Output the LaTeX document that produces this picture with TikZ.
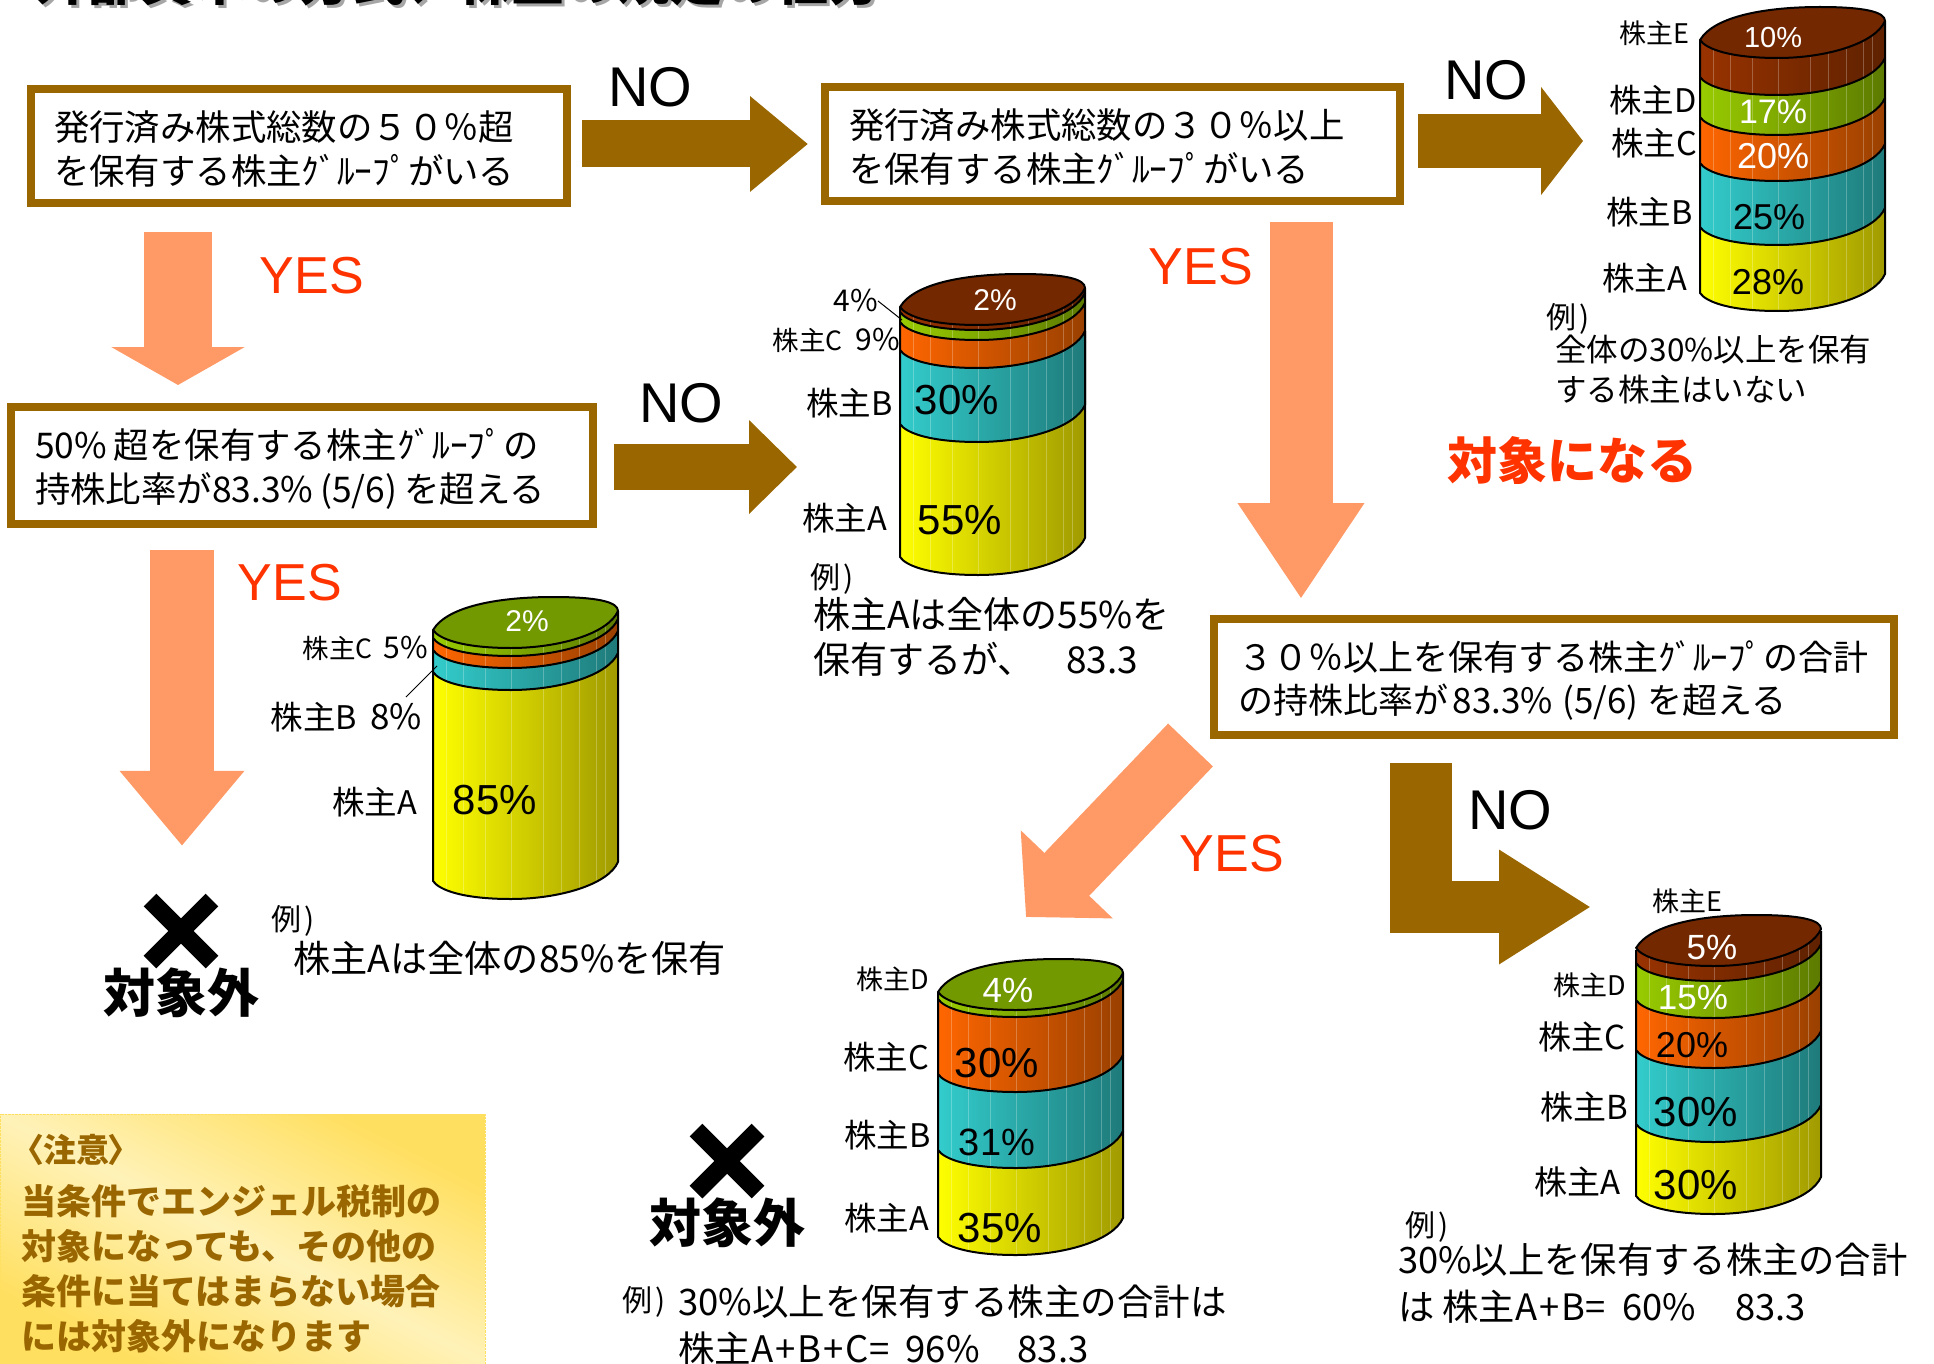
\documentclass[tikz,border=0pt]{standalone}
\usepackage{fontspec}
\setmainfont{Noto Sans CJK JP}
\newfontfamily\latinfont{Liberation Sans}
\usetikzlibrary{arrows.meta}
\usetikzlibrary{calc}

\definecolor{nobrown}{HTML}{996600}
\definecolor{yessalmon}{HTML}{FF9966}
\definecolor{yesred}{HTML}{FF3300}
\definecolor{noteyellow}{HTML}{FFDF5F}
\definecolor{notelight}{HTML}{FFF2B8}
\definecolor{yelL}{HTML}{FFFF00}
\definecolor{yelR}{HTML}{A09A00}
\definecolor{tealL}{HTML}{33CCCC}
\definecolor{tealR}{HTML}{1F7A7A}
\definecolor{oraL}{HTML}{FF6600}
\definecolor{oraR}{HTML}{994000}
\definecolor{greL}{HTML}{99CC00}
\definecolor{greR}{HTML}{5C7A00}
\definecolor{broL}{HTML}{993300}
\definecolor{broR}{HTML}{5E2100}
\definecolor{greTop}{HTML}{739900}
\definecolor{broTop}{HTML}{732800}

\pgfdeclarehorizontalshading{notegrad}{100bp}{color(0bp)=(noteyellow); color(26bp)=(noteyellow); color(50bp)=(notelight); color(74bp)=(noteyellow); color(100bp)=(noteyellow)}

\tikzset{
  flowbox/.style={draw=nobrown, line width=8pt, fill=white, align=left, inner sep=0pt, font=\fontsize{35.4pt}{44pt}\selectfont, execute at begin node=\rule{0pt}{36pt}},
  noarrow/.style args={#1/#2/#3}{draw=nobrown, line width=#1pt, -{Triangle[length=#2pt,width=#3pt]}},
  yesarrow/.style args={#1/#2/#3}{draw=yessalmon, line width=#1pt, -{Triangle[length=#2pt,width=#3pt]}},
  nolabel/.style={font=\latinfont\fontsize{56pt}{56pt}\selectfont, inner sep=0pt, yshift=-1pt},
  yeslabel/.style={font=\latinfont\fontsize{52pt}{52pt}\selectfont, text=yesred, inner sep=0pt, yshift=-2pt},
  holder/.style={font=\fontsize{#1pt}{#1pt}\selectfont, anchor=east, inner sep=0pt},
  pct/.style={font=\latinfont\fontsize{#1pt}{#1pt}\selectfont, inner sep=0pt},
  exmark/.style={font=\fontsize{30pt}{30pt}\selectfont, anchor=west, inner sep=0pt, xshift=-2pt, yshift=-3.5pt},
  extext/.style args={#1/#2}{font=\fontsize{#1pt}{#2pt}\selectfont, anchor=west, align=left, inner sep=0pt},
  outlabel/.style={font=\bfseries\fontsize{52pt}{52pt}\selectfont, inner sep=0pt},
  crossbar/.style={line width=18pt, black},
  rimline/.style={line width=2pt, black, line join=round},
  stripe/.style={line width=0.8pt, white, opacity=0.25}
}

% lower rim of the drum, left to right
\newcommand{\rimlow}[2]{(#1,#2) .. controls (#1+6,#2+9) and (#1+30,#2+18) .. (#1+78,#2+18) .. controls (#1+125,#2+18) and (#1+175,#2+4) .. (#1+185,#2-19)}

% x, upper y, lower y, left colour, right colour
\newcommand{\drumband}[5]{
  \begin{scope}
    \clip (#1,#2) -- \rimlow{#1}{#3} -- (#1+185,#2-19) -- cycle;
    \shade[left color=#4, right color=#5] (#1,#2-40) rectangle (#1+185,#3+25);
    \foreach \f in {13,30,52,78,110,128,146,163,172} {
      \draw[stripe] (#1+\f,#2-40) -- (#1+\f,#3+25);
    }
  \end{scope}
  \draw[rimline] (#1,#2) -- \rimlow{#1}{#3} -- (#1+185,#2-19);
}

% x, y, colour
\newcommand{\drumtop}[3]{
  \draw[rimline, fill=#3] \rimlow{#1}{#2} .. controls (#1+185,#2-28) and (#1+165,#2-33) .. (#1+120,#2-33) .. controls (#1+70,#2-33) and (#1+15,#2-25) .. (#1,#2) -- cycle;
}

\begin{document}
\begin{tikzpicture}[x=1pt,y=-1pt]
  \useasboundingbox (0,0) rectangle (1934,1364);

  % title, cut by the page edge
  \node[font=\bfseries\fontsize{53pt}{53pt}\selectfont, text=black!35, anchor=base west, inner sep=0pt] (titleshade) at (37,4) {外部資本の方式、株主の規定の仕方};
  \node[font=\bfseries\fontsize{53pt}{53pt}\selectfont, anchor=base west, inner sep=0pt] (title) at (34,1) {外部資本の方式、株主の規定の仕方};

  % question boxes
  \node[flowbox, minimum width=536pt, minimum height=114pt, text width=490pt] (boxA) at (299,146) {発行済み株式総数の５０％超\\を保有する株主ｸﾞﾙｰﾌﾟがいる};
  \node[flowbox, minimum width=575pt, minimum height=114pt, text width=527pt] (boxB) at (1112.5,144) {発行済み株式総数の３０％以上\\を保有する株主ｸﾞﾙｰﾌﾟがいる};
  \node[flowbox, minimum width=582pt, minimum height=117pt, text width=534pt] (boxC) at (302,465.5) {50\%\hspace{7pt}超を保有する株主ｸﾞﾙｰﾌﾟの\\持株比率が83.3\%\hspace{7pt}(5/6)\hspace{7pt}を超える};
  \node[flowbox, minimum width=680pt, minimum height=116pt, text width=632pt, font=\fontsize{35pt}{43pt}\selectfont] (boxD) at (1554,677) {３０％以上を保有する株主ｸﾞﾙｰﾌﾟの合計\\の持株比率が\hspace{5pt}83.3\%\hspace{9pt}(5/6)\hspace{9pt}を超える};

  % cross marks and their words
  \node[minimum width=74pt, minimum height=74pt, inner sep=0pt] (crossA) at (181,931) {};
  \draw[crossbar] ([xshift=-31pt,yshift=31pt]crossA.center) -- ([xshift=31pt,yshift=-31pt]crossA.center);
  \draw[crossbar] ([xshift=-31pt,yshift=-31pt]crossA.center) -- ([xshift=31pt,yshift=31pt]crossA.center);
  \node[outlabel] (outA) at (181,993) {対象外};
  \node[minimum width=74pt, minimum height=74pt, inner sep=0pt] (crossB) at (727,1161) {};
  \draw[crossbar] ([xshift=-31pt,yshift=31pt]crossB.center) -- ([xshift=31pt,yshift=-31pt]crossB.center);
  \draw[crossbar] ([xshift=-31pt,yshift=-31pt]crossB.center) -- ([xshift=31pt,yshift=31pt]crossB.center);
  \node[outlabel] (outB) at (727,1223) {対象外};

  % free ends of the connectors
  \coordinate (yesTopX) at (178,0);
  \coordinate (yesMidX) at (182,0);
  \coordinate (yesRightX) at (1301,0);
  \coordinate (tipE) at (1583,141);
  \coordinate (tipC) at (797,467);
  \coordinate (startC) at (614,467);
  \coordinate (diagStart) at (1190.5,745);
  \coordinate (diagTip) at (1026,917);
  \coordinate (elbowTop) at (1421,763);
  \coordinate (elbowLow) at (1421,933);
  \coordinate (elbowMid) at (1421,907);
  \coordinate (elbowTip) at (1591,907);

  % NO arrows
  \draw[noarrow=47/58/92, shorten <=11pt, shorten >=13pt] (boxA.east |- boxB.west) -- (boxB.west);
  \draw[noarrow=54/42/106, shorten <=14pt] (boxB.east |- tipE) -- (tipE);
  \draw[noarrow=46/48/91] (startC) -- (tipC);
  \draw[draw=nobrown, line width=62pt] (elbowTop) -- (elbowLow);
  \draw[noarrow=52/92/108] (elbowMid) -- (elbowTip);

  % YES arrows
  \draw[yesarrow=68/38/132, shorten <=25pt, shorten >=18pt] (yesTopX |- boxA.south) -- (yesTopX |- boxC.north);
  \draw[yesarrow=64/75/120, shorten <=22pt, shorten >=48pt] (yesMidX |- boxC.south) -- (yesMidX |- crossA.north);
  \draw[yesarrow=63/96/120, shorten <=17pt, shorten >=16pt] (yesRightX |- boxB.south) -- (yesRightX |- boxD.north);
  \draw[yesarrow=62/59/124] (diagStart) -- (diagTip);

  \node[nolabel] (noA) at (650,86) {NO};
  \node[nolabel] (noB) at (1486,79) {NO};
  \node[nolabel] (noC) at (681,402) {NO};
  \node[nolabel] (noD) at (1510,809) {NO};
  \node[yeslabel] (yesA) at (312,274) {YES};
  \node[yeslabel] (yesB) at (290,581) {YES};
  \node[yeslabel] (yesC) at (1201,265) {YES};
  \node[yeslabel] (yesD) at (1232,852) {YES};

  % drum top right
  \drumband{1700}{227}{293}{yelL}{yelR}
  \drumband{1700}{163}{227}{tealL}{tealR}
  \drumband{1700}{117}{163}{oraL}{oraR}
  \drumband{1700}{77}{117}{greL}{greR}
  \drumband{1700}{40}{77}{broL}{broR}
  \drumtop{1700}{40}{broTop}
  \node[holder=27] (holdE1) at (1690,33) {株主E};
  \node[holder=32.5] (holdD1) at (1697,100) {株主D};
  \node[holder=32.5] (holdC1) at (1697,143) {株主C};
  \node[holder=32.5] (holdB1) at (1693,212) {株主B};
  \node[holder=32.5] (holdA1) at (1687,278) {株主A};
  \node[pct=29, text=white] (pctE1) at (1773,38) {10\%};
  \node[pct=34, text=white] (pctD1) at (1773,112) {17\%};
  \node[pct=36, text=white] (pctC1) at (1773,156) {20\%};
  \node[pct=36] (pctB1) at (1769,217) {25\%};
  \node[pct=36] (pctA1) at (1768,282) {28\%};
  \node[exmark] (ex1) at (1548,315) {例\hspace{3pt})};
  \node[extext=31.5/40] (note1) at (1555,369) {全体の30\%以上を保有\\する株主はいない};

  % drum middle
  \drumband{900}{350}{557}{yelL}{yelR}
  \drumband{900}{350}{424}{tealL}{tealR}
  \drumband{900}{322}{350}{oraL}{oraR}
  \drumband{900}{312}{322}{greL}{greR}
  \drumband{900}{307}{312}{broL}{broR}
  \drumtop{900}{307}{broTop}
  \node[pct=30, text=white] (pctE2) at (995,300) {2\%};
  \node[holder=30] (pctD2) at (878,301) {4\%};
  \node[holder=26.5] (holdC2) at (900,340) {株主C\hspace{13pt}{\fontsize{30pt}{30pt}\selectfont 9\%}};
  \node[holder=32.5] (holdB2) at (893,403) {株主B};
  \node[holder=32.5] (holdA2) at (887,518) {株主A};
  \node[pct=42] (pctB2) at (957,400) {30\%};
  \node[pct=42] (pctA2) at (960,520) {55\%};
  \coordinate (leadEnd2) at (902,320);
  \draw[line width=1pt] (pctD2.east) -- (leadEnd2);
  \node[exmark] (ex2) at (812,575) {例\hspace{3pt})};
  \node[extext=37/45] (note2) at (813,637) {株主Aは全体の55\%を\\保有するが、\hspace{32pt}83.3};

  % drum left
  \drumband{433}{672}{881}{yelL}{yelR}
  \drumband{433}{650}{672}{tealL}{tealR}
  \drumband{433}{638}{650}{oraL}{oraR}
  \drumband{433}{630}{638}{greL}{greR}
  \drumtop{433}{630}{greTop}
  \node[pct=30, text=white] (pctD3) at (527,621) {2\%};
  \node[holder=26.5] (holdC3) at (428,648) {株主C\hspace{11pt}{\fontsize{30pt}{30pt}\selectfont 5\%}};
  \node[holder=32.5] (holdB3) at (422,717) {株主B\hspace{13pt}{\fontsize{35pt}{35pt}\selectfont 8\%}};
  \node[holder=32.5] (holdA3) at (417,802) {株主A};
  \node[pct=42] (pctA3) at (495,800) {85\%};
  \coordinate (leadStart3) at (406,697);
  \coordinate (leadEnd3) at (437,666);
  \draw[line width=1pt] (leadStart3) -- (leadEnd3);
  \node[exmark] (ex3) at (273,917) {例\hspace{3pt})};
  \node[extext=37.2/45] (note3) at (293,958) {株主Aは全体の85\%を保有};

  % drum bottom middle
  \drumband{938}{1150}{1237}{yelL}{yelR}
  \drumband{938}{1074}{1150}{tealL}{tealR}
  \drumband{938}{999}{1074}{oraL}{oraR}
  \drumband{938}{992}{999}{greL}{greR}
  \drumtop{938}{992}{greTop}
  \node[holder=27] (holdD4) at (929,979) {株主D};
  \node[holder=32.5] (holdC4) at (929,1057) {株主C};
  \node[holder=32.5] (holdB4) at (931,1135) {株主B};
  \node[holder=32.5] (holdA4) at (929,1218) {株主A};
  \node[pct=35, text=white] (pctD4) at (1008,990) {4\%};
  \node[pct=42] (pctC4) at (997,1063) {30\%};
  \node[pct=38] (pctB4) at (997,1142) {31\%};
  \node[pct=42] (pctA4) at (1000,1228) {35\%};
  \node[exmark] (ex4) at (624,1298) {例\hspace{3pt})};
  \node[extext=36.5/47] (note4) at (678,1325) {30\%以上を保有する株主の合計は\\株主A\hspace{2pt}+\hspace{2pt}B\hspace{2pt}+\hspace{2pt}C=\hspace{8pt} 96\%\hspace{38pt}83.3};

  % drum bottom right
  \drumband{1636}{1124}{1196}{yelL}{yelR}
  \drumband{1636}{1050}{1124}{tealL}{tealR}
  \drumband{1636}{1000}{1050}{oraL}{oraR}
  \drumband{1636}{963}{1000}{greL}{greR}
  \drumband{1636}{950}{963}{broL}{broR}
  \drumtop{1636}{948}{broTop}
  \node[holder=27] (holdE5) at (1723,901) {株主E};
  \node[holder=27] (holdD5) at (1626,985) {株主D};
  \node[holder=33] (holdC5) at (1626,1037) {株主C};
  \node[holder=33] (holdB5) at (1628,1107) {株主B};
  \node[holder=33] (holdA5) at (1621,1182) {株主A};
  \node[pct=35, text=white] (pctE5) at (1712,948) {5\%};
  \node[pct=35, text=white] (pctD5) at (1693,998) {15\%};
  \node[pct=36] (pctC5) at (1692,1045) {20\%};
  \node[pct=42] (pctB5) at (1696,1112) {30\%};
  \node[pct=42] (pctA5) at (1696,1185) {30\%};
  \node[exmark] (ex5) at (1407,1223) {例\hspace{3pt})};
  \node[extext=36.3/47] (note5) at (1398,1283) {30\%以上を保有する株主の合計\\は 株主A\hspace{2pt}+\hspace{2pt}B=\hspace{9pt} 60\%\hspace{39pt}83.3};

  % verdict and note
  \node[font=\bfseries\fontsize{50pt}{50pt}\selectfont, text=yesred, inner sep=0pt] (target) at (1572,461) {対象になる};
  \fill[shading=notegrad, shading angle=63] (0,1114) rectangle (485,1364);
  \draw[noteyellow, densely dotted] (0,1364) -- (0,1114) -- (485,1114) -- (485,1364);
  \node[font=\bfseries\fontsize{35pt}{45pt}\selectfont, text=nobrown, anchor=north west, align=left, inner sep=0pt] (notetext) at (21,1134) {{\addfontfeature{RawFeature=+palt}\fontsize{33pt}{45pt}\selectfont\,〈注意〉}\\[7pt]当条件でエンジェル税制の\\対象になっても、その他の\\条件に当てはまらない場合\\には対象外になります};
\end{tikzpicture}
\end{document}
